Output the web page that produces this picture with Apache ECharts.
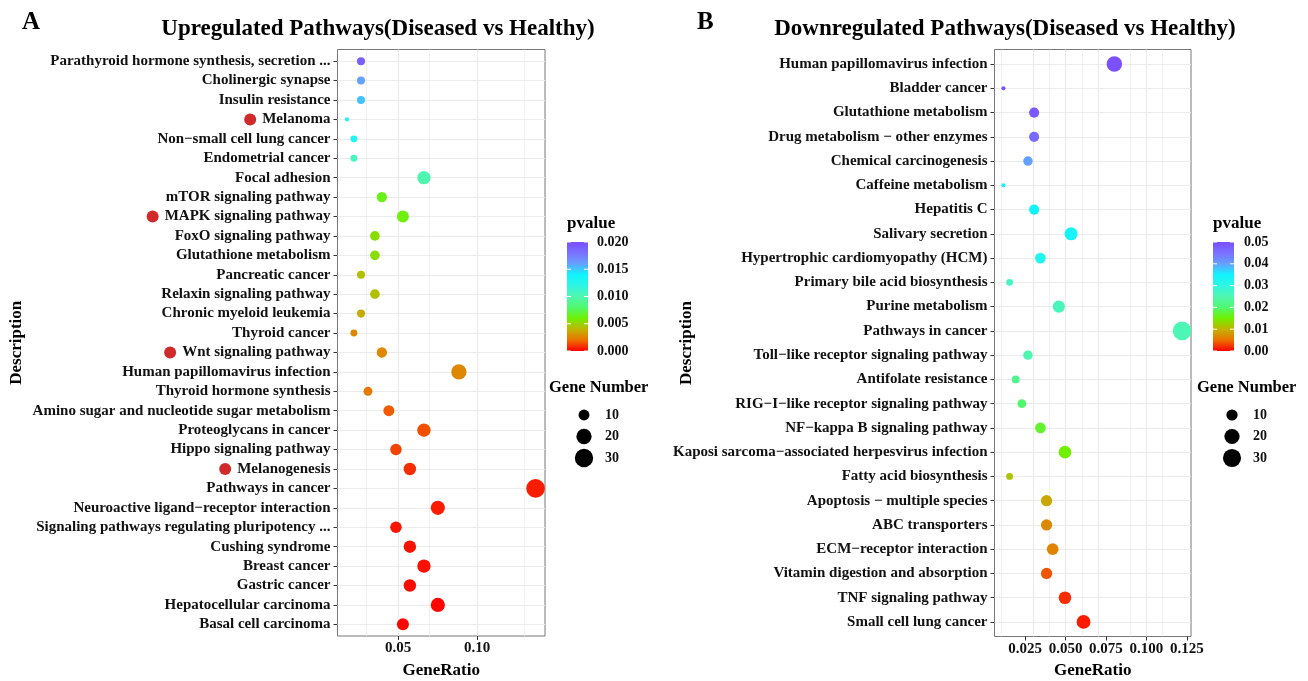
<!DOCTYPE html>
<html>
<head>
<meta charset="utf-8">
<title>Up / Down regulated pathways</title>
<script src="https://cdn.jsdelivr.net/npm/echarts@6/dist/echarts.min.js"></script>
<style>
  html, body { margin: 0; padding: 0; background: #fff; }
  #main { width: 1308px; height: 681px; }
</style>
</head>
<body>
<div id="main"></div>
<script>
// ---------- panel A : upregulated ----------
var upNames = [
  'Parathyroid hormone synthesis, secretion ...', 'Cholinergic synapse', 'Insulin resistance',
  'Melanoma', 'Non\u2212small cell lung cancer', 'Endometrial cancer', 'Focal adhesion',
  'mTOR signaling pathway', 'MAPK signaling pathway', 'FoxO signaling pathway',
  'Glutathione metabolism', 'Pancreatic cancer', 'Relaxin signaling pathway',
  'Chronic myeloid leukemia', 'Thyroid cancer', 'Wnt signaling pathway',
  'Human papillomavirus infection', 'Thyroid hormone synthesis',
  'Amino sugar and nucleotide sugar metabolism', 'Proteoglycans in cancer',
  'Hippo signaling pathway', 'Melanogenesis', 'Pathways in cancer',
  'Neuroactive ligand\u2212receptor interaction', 'Signaling pathways regulating pluripotency ...',
  'Cushing syndrome', 'Breast cancer', 'Gastric cancer', 'Hepatocellular carcinoma',
  'Basal cell carcinoma'
];
var upRatio = [0.0266, 0.0266, 0.0266, 0.0177, 0.0221, 0.0221, 0.0664, 0.0398, 0.0531, 0.0354,
  0.0354, 0.0266, 0.0354, 0.0266, 0.0221, 0.0398, 0.0885, 0.0310, 0.0442, 0.0664,
  0.0487, 0.0575, 0.1370, 0.0752, 0.0487, 0.0575, 0.0664, 0.0575, 0.0752, 0.0531];
var upCount = [6, 6, 6, 4, 5, 5, 15, 9, 12, 8, 8, 6, 8, 6, 5, 9, 20, 7, 10, 15,
  11, 13, 31, 17, 11, 13, 15, 13, 17, 12];
var upP = [0.0190, 0.0160, 0.0152, 0.0136, 0.0130, 0.0104, 0.0100, 0.0064, 0.0062, 0.0054,
  0.0054, 0.0044, 0.0044, 0.0038, 0.0027, 0.0027, 0.0027, 0.0023, 0.0016, 0.0014,
  0.0012, 0.0008, 0.0005, 0.0005, 0.0004, 0.0003, 0.0003, 0.0002, 0.0001, 0.0001];
var upMarked = ['Melanoma', 'MAPK signaling pathway', 'Wnt signaling pathway', 'Melanogenesis'];
var upTicks = [0.05, 0.10];
var upMinor = [0.025, 0.075, 0.125];
var upPTicks = [0, 0.005, 0.010, 0.015, 0.020];

// ---------- panel B : downregulated ----------
var downNames = [
  'Human papillomavirus infection', 'Bladder cancer', 'Glutathione metabolism',
  'Drug metabolism \u2212 other enzymes', 'Chemical carcinogenesis', 'Caffeine metabolism',
  'Hepatitis C', 'Salivary secretion', 'Hypertrophic cardiomyopathy (HCM)',
  'Primary bile acid biosynthesis', 'Purine metabolism', 'Pathways in cancer',
  'Toll\u2212like receptor signaling pathway', 'Antifolate resistance',
  'RIG\u2212I\u2212like receptor signaling pathway', 'NF\u2212kappa B signaling pathway',
  'Kaposi sarcoma\u2212associated herpesvirus infection', 'Fatty acid biosynthesis',
  'Apoptosis \u2212 multiple species', 'ABC transporters', 'ECM\u2212receptor interaction',
  'Vitamin digestion and absorption', 'TNF signaling pathway', 'Small cell lung cancer'
];
var downRatio = [0.0802, 0.0115, 0.0305, 0.0305, 0.0267, 0.0115, 0.0305, 0.0534, 0.0344, 0.0153,
  0.0458, 0.1221, 0.0267, 0.0191, 0.0229, 0.0344, 0.0496, 0.0153, 0.0382, 0.0382,
  0.0420, 0.0382, 0.0496, 0.0611];
var downCount = [21, 3, 8, 8, 7, 3, 8, 14, 9, 4, 12, 32, 7, 5, 6, 9, 13, 4, 10, 10, 11, 10, 13, 16];
var downP = [0.0495, 0.0495, 0.0485, 0.0460, 0.0400, 0.0352, 0.0348, 0.0340, 0.0322, 0.0268,
  0.0262, 0.0255, 0.0250, 0.0225, 0.0200, 0.0170, 0.0150, 0.0112, 0.0090, 0.0068,
  0.0064, 0.0038, 0.0020, 0.0012];
var downTicks = [0.025, 0.050, 0.075, 0.100, 0.125];
var downMinor = [0.0125, 0.0375, 0.0625, 0.0875, 0.1125];
var downPTicks = [0, 0.01, 0.02, 0.03, 0.04, 0.05];

var sizeBreaks = [10, 20, 30];
// red -> orange -> green -> cyan -> violet (low p to high p)
var pColors = ['#ff0000', '#ec7000', '#c0b400', '#70f000', '#50f870', '#50f6b0',
  '#2ef6e2', '#10f4ff', '#66a0ff', '#7a70ff', '#7a4dff'];

var FONT = 'Liberation Serif';

function sizeFn(counts) {
  var lo = Math.min.apply(null, counts), hi = Math.max.apply(null, counts);
  return function (k) {
    var t = Math.max(0, (k - lo) / (hi - lo));
    return 1.2 + 2.9 * (1 + 5 * Math.sqrt(t));
  };
}

var panels = [
  { names: upNames, ratio: upRatio, count: upCount, p: upP, marked: upMarked,
    ticks: upTicks, minor: upMinor, digits: 2, pMax: 0.02, pTicks: upPTicks, pDigits: 3,
    grid: { left: 337.5, top: 49.5, width: 207.5, height: 586.5 }, yNameGap: 312.5,
    title: 'Upregulated Pathways(Diseased vs Healthy)', titleX: 373, tag: 'A', tagX: 17,
    barX: 567, numX: 597, sizeTitleX: 549, sizeDotX: 584, sizeNumX: 605 },
  { names: downNames, ratio: downRatio, count: downCount, p: downP, marked: [],
    ticks: downTicks, minor: downMinor, digits: 3, pMax: 0.05, pTicks: downPTicks, pDigits: 2,
    grid: { left: 994.5, top: 49.5, width: 196.5, height: 587 }, yNameGap: 299.5,
    title: 'Downregulated Pathways(Diseased vs Healthy)', titleX: 1000, tag: 'B', tagX: 692,
    barX: 1213, numX: 1244, sizeTitleX: 1197, sizeDotX: 1232, sizeNumX: 1253 }
];

var grids = [], xAxes = [], yAxes = [], series = [], visualMaps = [], titles = [], graphics = [];

panels.forEach(function (pn, i) {
  var n = pn.names.length;
  var size = sizeFn(pn.count);
  var lo = Math.min.apply(null, pn.ratio), hi = Math.max.apply(null, pn.ratio);
  var pad = (hi - lo) * 0.05;

  grids.push({ left: pn.grid.left, top: pn.grid.top, width: pn.grid.width, height: pn.grid.height,
    outerBoundsMode: 'none', containLabel: false,
    show: true, borderColor: '#777', borderWidth: 1, backgroundColor: 'transparent' });

  xAxes.push({
    type: 'value', gridIndex: i, min: lo - pad, max: hi + pad,
    name: 'GeneRatio', nameLocation: 'middle', nameGap: 26, nameMoveOverlap: false,
    nameTextStyle: { fontFamily: FONT, fontWeight: 'bold', fontSize: 17, color: '#000' },
    axisLine: { show: false },
    axisTick: { show: true, customValues: pn.ticks, length: 4, lineStyle: { color: '#333' } },
    axisLabel: { customValues: pn.ticks, margin: 5, fontFamily: FONT, fontWeight: 'bold',
      fontSize: 15, color: '#111', formatter: function (v) { return v.toFixed(pn.digits); } },
    splitLine: { show: false }
  });

  var ids = [];
  for (var r = 1; r <= n; r++) ids.push(r);
  yAxes.push({
    type: 'value', gridIndex: i, inverse: true, min: 0.4, max: n + 0.6,
    name: 'Description', nameLocation: 'middle', nameGap: pn.yNameGap, nameRotate: 90,
    nameMoveOverlap: false,
    nameTextStyle: { fontFamily: FONT, fontWeight: 'bold', fontSize: 17, color: '#000' },
    axisLine: { show: false },
    axisTick: { show: true, customValues: ids, length: 4, lineStyle: { color: '#333' } },
    axisLabel: {
      customValues: ids, margin: 7, fontFamily: FONT, fontWeight: 'bold', fontSize: 15, color: '#111',
      formatter: function (v) {
        var name = pn.names[Math.round(v) - 1] || '';
        return pn.marked.indexOf(name) >= 0 ? '{dot| }{sp| }' + name : name;
      },
      rich: {
        dot: { width: 12, height: 12, borderRadius: 6, backgroundColor: '#d12a2a' },
        sp: { width: 6 }
      }
    },
    splitLine: { show: false }
  });

  // background grid lines
  var lines = [];
  ids.forEach(function (r) { lines.push({ yAxis: r, lineStyle: { width: 1.2 } }); });
  pn.ticks.forEach(function (v) { lines.push({ xAxis: v, lineStyle: { width: 1.2 } }); });
  pn.minor.forEach(function (v) { lines.push({ xAxis: v, lineStyle: { width: 0.7 } }); });
  series.push({
    type: 'scatter', xAxisIndex: i, yAxisIndex: i, data: [], silent: true, z: 1,
    markLine: { silent: true, z: 1, symbol: ['none', 'none'], label: { show: false },
      lineStyle: { color: '#ebebeb', type: 'solid' }, emphasis: { disabled: true },
      animation: false, data: lines }
  });

  var pts = pn.names.map(function (name, j) {
    return [pn.ratio[j], j + 1, pn.count[j], pn.p[j]];
  });
  series.push({
    type: 'scatter', xAxisIndex: i, yAxisIndex: i, z: 3, data: pts,
    symbol: 'circle', symbolSize: function (d) { return size(d[2]); },
    itemStyle: { opacity: 1 }, emphasis: { disabled: true }, animation: false
  });
  visualMaps.push({
    show: false, type: 'continuous', seriesIndex: series.length - 1, dimension: 3,
    min: 0, max: pn.pMax, inRange: { color: pColors }
  });

  titles.push({ text: pn.title, left: pn.titleX, top: 13, textAlign: 'center',
    textStyle: { fontFamily: FONT, fontWeight: 'bold', fontSize: 23, color: '#000' } });
  titles.push({ text: pn.tag, left: pn.tagX, top: 5,
    textStyle: { fontFamily: FONT, fontWeight: 'bold', fontSize: 25, color: '#000' } });

  // colour bar legend
  var barTop = 242, barH = 109, barW = 21;
  var stops = pColors.map(function (c, k) { return { offset: k / (pColors.length - 1), color: c }; });
  graphics.push({ type: 'text', left: pn.barX, top: 215,
    style: { text: 'pvalue', font: 'bold 17px "' + FONT + '"', fill: '#000' } });
  graphics.push({ type: 'rect', shape: { x: pn.barX, y: barTop, width: barW, height: barH },
    style: { fill: new echarts.graphic.LinearGradient(0, 1, 0, 0, stops) } });
  pn.pTicks.forEach(function (v) {
    var y = barTop + (1 - v / pn.pMax) * barH;
    graphics.push({ type: 'line', shape: { x1: pn.barX, y1: y, x2: pn.barX + 4, y2: y },
      style: { stroke: '#fff', lineWidth: 1 } });
    graphics.push({ type: 'line', shape: { x1: pn.barX + barW - 4, y1: y, x2: pn.barX + barW, y2: y },
      style: { stroke: '#fff', lineWidth: 1 } });
    graphics.push({ type: 'text', x: pn.numX, y: y,
      style: { text: v.toFixed(pn.pDigits), font: 'bold 14px "' + FONT + '"', fill: '#111',
        textVerticalAlign: 'middle', verticalAlign: 'middle' } });
  });

  // size legend
  graphics.push({ type: 'text', left: pn.sizeTitleX, top: 379,
    style: { text: 'Gene Number', font: 'bold 16.5px "' + FONT + '"', fill: '#000' } });
  sizeBreaks.forEach(function (k, j) {
    var y = 415 + j * 21.5;
    graphics.push({ type: 'circle', shape: { cx: pn.sizeDotX, cy: y, r: size(k) / 2 },
      style: { fill: '#000' } });
    graphics.push({ type: 'text', x: pn.sizeNumX, y: y,
      style: { text: String(k), font: 'bold 14px "' + FONT + '"', fill: '#111',
        textVerticalAlign: 'middle', verticalAlign: 'middle' } });
  });
});

var chart = echarts.init(document.getElementById('main'), null, { renderer: 'canvas' });
chart.setOption({
  backgroundColor: '#fff',
  animation: false,
  title: titles,
  grid: grids,
  xAxis: xAxes,
  yAxis: yAxes,
  visualMap: visualMaps,
  series: series,
  graphic: graphics
});
</script>
</body>
</html>
